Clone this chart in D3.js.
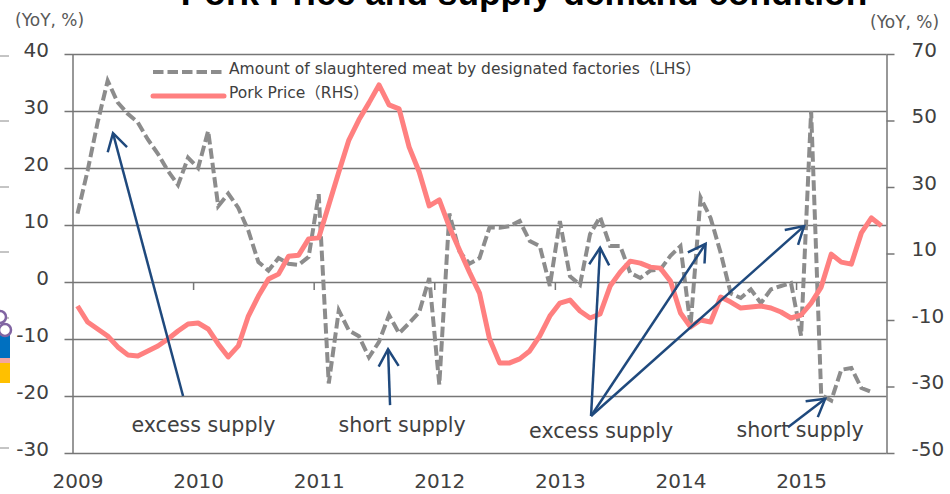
<!DOCTYPE html>
<html>
<meta http-equiv="content-type" content="text/html; charset=utf-8" />
<head>
    <title>Pork Price and supply-demand condition</title>
</head>

<style>
body { margin: 0; background: #fff; }
svg { display: block; }
text { font-family: "DejaVu Sans", "Noto Sans CJK JP", sans-serif; fill: #404040; }
.axis text { font-size: 20px; }
.axis path, .axis line { stroke: #767676; stroke-width: 1.5px; fill: none; }
.unit { font-size: 17px; fill: #595959; }
.legend text { font-size: 15.5px; }
.note { font-size: 20.6px; text-anchor: middle; }
.arrow { stroke: #1f497d; stroke-width: 2.5px; fill: none; }
</style>

<svg class="chart" width="950" height="494"></svg>
<script src="https://d3js.org/d3.v7.min.js"></script>

<script type="text/javascript">
var years = [2009, 2010, 2011, 2012, 2013, 2014, 2015];
var leftTicks = [-30, -20, -10, 0, 10, 20, 30, 40];
var rightTicks = [-50, -30, -10, 10, 30, 50, 70];

// monthly from 2009-01, YoY %
var slaughter = [12, 19.5, 28, 35.3, 31.5, 29.5, 28, 25, 22.5, 19.5, 17, 21.8,
  20, 26.5, 13.3, 15.5, 13, 9, 3.5, 2, 4.2, 3.2, 3, 4.4,
  15.4, -17.8, -5, -8.5, -9.5, -13.2, -10.5, -5.8, -9, -7.2, -5.3, 0.7,
  -18, 12, 5.4, 3.2, 4.2, 9.6, 9.5, 9.8, 10.7, 7.2, 6.3, -0.7,
  10.7, 1, -0.5, 8.4, 11.4, 6.3, 6.3, 1.6, 0.7, 2, 2.2, 4.6,
  6.3, -7.7, 14.8, 11.2, 5.1, -2, -2.8, -1.3, -3.7, -1.3, -0.7, -0.2,
  -9.4, 30, -19.8, -20.8, -15.4, -15.1, -18.6, -19.3];
var porkPrice = [-5.8, -10.6, -12.7, -14.8, -18.1, -20.5, -20.8, -19.3, -17.8, -15.7, -13.3, -11.2,
  -10.9, -12.7, -17.2, -21.1, -17.8, -8.8, -2.8, 2.3, 3.8, 9.2, 9.5, 14.4,
  14.7, 24.6, 34.5, 44.1, 50.2, 55.3, 60.7, 54.7, 53.5, 42, 34.5, 24.3,
  26.1, 18, 11.1, 4.4, -1.9, -15.7, -22.9, -22.9, -21.7, -19.3, -14.8, -8.8,
  -4.9, -4, -7.3, -9.4, -8.2, 0.2, 4.4, 7.7, 7.1, 5.9, 5.6, 1.7,
  -7.9, -12.1, -10, -10.6, -3.1, -4.6, -6.4, -6.1, -5.8, -6.4, -7.6, -9.4,
  -8.5, -4.9, -0.1, 9.8, 7.4, 6.8, 16.2, 20.7, 18.3];

// annotations in [month index, LHS value]
var arrows = [
  [[11, -20], [4.03, 26.1]],
  [[31.6, -21.6], [31.4, -11.8]],
  [[51.6, -23.5], [52.5, 6]],
  [[51.6, -23.5], [63, 6.7]],
  [[51.6, -23.5], [72.8, 9.8]],
  [[71.2, -25.5], [74.9, -20.5]]
];
var notes = [
  ["excess supply", 13.03, -26.3],
  ["short supply", 32.8, -26.3],
  ["excess supply", 52.6, -27.3],
  ["short supply", 72.4, -27.2]
];

var margin = {top: 54, right: 63.5, bottom: 41, left: 72.5},
    width = 950 - margin.left - margin.right,
    height = 494 - margin.top - margin.bottom;

var svg = d3.select(".chart");

svg.append("defs").append("marker")
    .attr("id", "head")
    .attr("markerUnits", "userSpaceOnUse")
    .attr("markerWidth", 24).attr("markerHeight", 28)
    .attr("refX", 20).attr("refY", 12)
    .attr("orient", "auto")
  .append("path")
    .attr("d", "M3,2 L20,12 L3,22")
    .attr("fill", "none").attr("stroke", "#1f497d").attr("stroke-width", 2.5);

// scraps of another chart left at the crop edge of the original image
[56, 121, 187, 252, 318, 448].forEach(function(y) {
  svg.append("line").attr("x1", 0).attr("x2", 9).attr("y1", y).attr("y2", y)
    .attr("stroke", "#8a8a8a").attr("stroke-width", 1);
});
svg.append("rect").attr("x", 0).attr("y", 335).attr("width", 10).attr("height", 23).attr("fill", "#0070c0");
svg.append("rect").attr("x", 0).attr("y", 358).attr("width", 10).attr("height", 5).attr("fill", "#f4a6a0");
svg.append("rect").attr("x", 0).attr("y", 363).attr("width", 10).attr("height", 20).attr("fill", "#ffc000");
[[0, 317], [5, 330]].forEach(function(c) {
  svg.append("circle").attr("cx", c[0]).attr("cy", c[1]).attr("r", 6)
    .attr("fill", "#fff").attr("stroke", "#8064a2").attr("stroke-width", 2.5);
});

svg.append("text")
    .attr("x", 524).attr("y", 5)
    .attr("text-anchor", "middle")
    .style("font-family", "'Liberation Sans', sans-serif")
    .style("font-weight", "bold").style("font-size", "35.3px").style("fill", "#000")
    .text("Pork Price and supply-demand condition");

svg.append("text").attr("class", "unit").attr("x", 15).attr("y", 26).text("(YoY, %)");
svg.append("text").attr("class", "unit").attr("x", 870).attr("y", 28).text("(YoY, %)");

var chart = svg.append("g")
    .attr("transform", "translate(" + margin.left + "," + margin.top + ")");

var xScale = d3.scaleLinear().domain([0, 81]).range([0, width]);
var yLeft = d3.scaleLinear().domain([-30, 40]).range([height, 0]);
var yRight = d3.scaleLinear().domain([-50, 70]).range([height, 0]);

var leftAxis = chart.append("g")
    .attr("class", "axis")
    .call(d3.axisLeft(yLeft).tickValues(leftTicks).tickSize(-width).tickPadding(23.5).tickSizeOuter(0)
      .tickFormat(function(d) { return String(d); }));
leftAxis.selectAll("line").attr("x1", -8);
leftAxis.selectAll("text").attr("dy", "0.12em");

var rightAxis = chart.append("g")
    .attr("class", "axis")
    .attr("transform", "translate(" + width + ",0)")
    .call(d3.axisRight(yRight).tickValues(rightTicks).tickSize(8).tickPadding(17).tickSizeOuter(0)
      .tickFormat(function(d) { return String(d); }));
rightAxis.selectAll("text").attr("dy", "0.12em");

// year ticks hang off the zero line
var zeroAxis = chart.append("g")
    .attr("class", "axis")
    .attr("transform", "translate(0," + yLeft(0) + ")")
    .call(d3.axisBottom(xScale)
      .tickValues(years.slice(1).map(function(d, i) { return (i + 1) * 12; }))
      .tickSize(8).tickSizeOuter(0).tickFormat(""));
zeroAxis.select(".domain").remove();

// year labels sit under each January
var yearAxis = chart.append("g")
    .attr("class", "axis")
    .attr("transform", "translate(0," + height + ")")
    .call(d3.axisBottom(xScale)
      .tickValues(years.map(function(d, i) { return i * 12 + 0.5; }))
      .tickSize(0).tickPadding(21)
      .tickFormat(function(d) { return years[(d - 0.5) / 12]; }));
yearAxis.select(".domain").remove();

var line = d3.line().x(function(d, i) { return xScale(i + 0.5); });

chart.append("path")
    .datum(slaughter)
    .attr("d", line.y(function(d) { return yLeft(d); }))
    .attr("fill", "none").attr("stroke", "#8c8c8c")
    .attr("stroke-width", 4).attr("stroke-dasharray", "10.5 4");

chart.append("path")
    .datum(porkPrice)
    .attr("d", line.y(function(d) { return yRight(d); }))
    .attr("fill", "none").attr("stroke", "#ff8080")
    .attr("stroke-width", 5).attr("stroke-linejoin", "round");

chart.selectAll(".arrow")
    .data(arrows).enter()
  .append("line")
    .attr("class", "arrow")
    .attr("x1", function(d) { return xScale(d[0][0]); })
    .attr("y1", function(d) { return yLeft(d[0][1]); })
    .attr("x2", function(d) { return xScale(d[1][0]); })
    .attr("y2", function(d) { return yLeft(d[1][1]); })
    .attr("marker-end", "url(#head)");

chart.selectAll(".note")
    .data(notes).enter()
  .append("text")
    .attr("class", "note")
    .attr("x", function(d) { return xScale(d[1]); })
    .attr("y", function(d) { return yLeft(d[2]); })
    .text(function(d) { return d[0]; });

var legend = svg.append("g").attr("class", "legend");
legend.append("line").attr("x1", 153).attr("x2", 224).attr("y1", 72).attr("y2", 72)
    .attr("stroke", "#8c8c8c").attr("stroke-width", 4).attr("stroke-dasharray", "10.5 4");
legend.append("text").attr("x", 229).attr("y", 74).text("Amount of slaughtered meat by designated factories（LHS）");
legend.append("line").attr("x1", 153).attr("x2", 224).attr("y1", 96).attr("y2", 96)
    .attr("stroke", "#ff8080").attr("stroke-width", 5).attr("stroke-linecap", "round");
legend.append("text").attr("x", 229).attr("y", 98).text("Pork Price（RHS）");
</script>

</html>
